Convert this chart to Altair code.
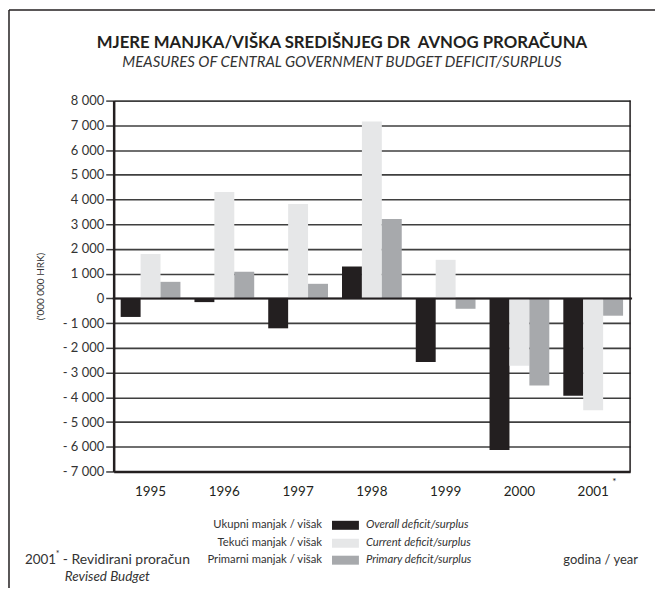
import altair as alt
import pandas as pd

# ---- data ----
years = ["1995", "1996", "1997", "1998", "1999", "2000", "2001"]
overall = [-750, -150, -1210, 1290, -2570, -6130, -3940]
current = [1800, 4300, 3820, 7160, 1560, -2720, -4520]
primary = [670, 1080, 590, 3210, -420, -3520, -700]
series_hr = ["Ukupni manjak / višak", "Tekući manjak / višak", "Primarni manjak / višak"]
series_en = ["Overall deficit/surplus", "Current deficit/surplus", "Primary deficit/surplus"]
colors = ["#231f20", "#e6e7e8", "#a7a9ac"]
y_ticks = list(range(-7000, 8001, 1000))

title_hr = "MJERE MANJKA/VIŠKA SREDIŠNJEG DR\u00a0 AVNOG PRORAČUNA"
title_en = "MEASURES OF CENTRAL GOVERNMENT BUDGET DEFICIT/SURPLUS"

rows = []
for i, yr in enumerate(years):
    for s, vals in zip(series_en, [overall, current, primary]):
        rows.append({"year": yr, "series": s, "value": vals[i]})
df = pd.DataFrame(rows)

W, H = 518, 372
FONT = "Lato"
TXT = "#231f20"
GRID = "#3f3f3f"

xenc = alt.X(
    "year:N", sort=years,
    scale=alt.Scale(paddingInner=0.19, paddingOuter=0.095),
    axis=alt.Axis(title=None, labelAngle=0, ticks=False, domain=True, domainColor=TXT,
                  domainWidth=2.5, labelFontSize=13.5, labelPadding=13, labelColor=TXT,
                  labelFont=FONT, grid=False),
)
yenc = alt.Y(
    "value:Q",
    scale=alt.Scale(domain=[-7000, 8000], nice=False, zero=False),
    axis=alt.Axis(
        values=y_ticks, tickCount=len(y_ticks) + 2, title="('000 000 HRK)", titleFont=FONT,
        titleFontSize=10, titleFontWeight="normal", titleColor="#333333", titlePadding=17,
        labelExpr="(datum.value < 0 ? '- ' : '') + replace(format(abs(datum.value), ','), ',', ' ')",
        labelOverlap=False, labelFlush=False, labelBound=False,
        grid=True, gridColor=GRID, gridWidth=1.6, tickSize=8, tickColor=GRID, tickWidth=1.5,
        domainColor=TXT, domainWidth=2.5, labelPadding=2, labelFontSize=13,
        labelColor="#333333", labelFont=FONT,
    ),
)

bars = alt.Chart(df).mark_bar().encode(
    x=xenc,
    xOffset=alt.XOffset("series:N", sort=series_en),
    y=yenc,
    color=alt.Color("series:N", sort=series_en,
                    scale=alt.Scale(domain=series_en, range=colors), legend=None),
)

one = pd.DataFrame({"k": [0]})

zero_line = alt.Chart(one).mark_rule(color=TXT, strokeWidth=2).encode(
    y=alt.datum(0), x=alt.value(-1), x2=alt.value(W + 2)
)
right_border = alt.Chart(one).mark_rule(color=TXT, strokeWidth=1.5).encode(
    x=alt.value(W), y=alt.value(0), y2=alt.value(H)
)
frame_top = alt.Chart(one).mark_rule(color=TXT, strokeWidth=1.5).encode(
    x=alt.value(-105), x2=alt.value(560), y=alt.value(-91)
)
frame_left = alt.Chart(one).mark_rule(color=TXT, strokeWidth=1.5).encode(
    x=alt.value(-105), y=alt.value(-91), y2=alt.value(500)
)

star = alt.Chart(pd.DataFrame({"year": ["2001"], "t": ["*"]})).mark_text(
    font=FONT, fontSize=10, color=TXT, dx=19, align="left"
).encode(x=alt.X("year:N", sort=years), y=alt.value(H + 11), text="t:N")


def label(text, x, y, size=11, align="left", style="normal", weight="normal", color=TXT):
    return alt.Chart(pd.DataFrame({"t": [text]})).mark_text(
        font=FONT, fontSize=size, align=align, baseline="middle",
        fontStyle=style, fontWeight=weight, color=color,
    ).encode(x=alt.value(x), y=alt.value(y), text="t:N")


layers = [bars, zero_line, right_border, frame_top, frame_left, star]
layers.append(label(title_hr, 229, -58, size=16.8, align="center", weight="bold"))
layers.append(label(title_en, 229, -39, size=15, align="center", style="italic", color="#333333"))

row_y = [426, 444, 461]
for i in range(3):
    layers.append(label(series_hr[i], 209, row_y[i], size=11.3, align="right", color="#333333"))
    layers.append(label(series_en[i], 253, row_y[i], size=11.3, align="left", style="italic", color="#333333"))
    layers.append(
        alt.Chart(one).mark_rect(color=colors[i]).encode(
            x=alt.value(219), x2=alt.value(246), y=alt.value(row_y[i] - 4.5), y2=alt.value(row_y[i] + 4.5)
        )
    )

layers.append(label("2001", -89, 461, size=13.5, color="#333333"))
layers.append(label("*", -58, 455, size=9, color="#333333"))
layers.append(label("- Revidirani proračun", -51, 461, size=14, color="#333333"))
layers.append(label("Revised Budget", -49, 478, size=13.5, style="italic", color="#333333"))
layers.append(label("godina / year", 451, 461, size=13, color="#333333"))

chart = alt.layer(*layers).properties(
    width=W, height=H,
    autosize=alt.AutoSizeParams(type="none"),
    padding={"left": 106, "top": 92, "right": 25, "bottom": 116},
).configure_view(strokeWidth=0).configure(font=FONT)

chart.save("out.html", embed_options={"renderer": "svg", "actions": False})
